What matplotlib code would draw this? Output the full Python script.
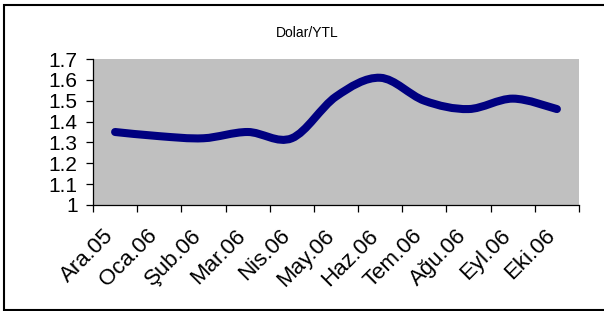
import matplotlib
matplotlib.use('Agg')
import matplotlib.pyplot as plt
from matplotlib.path import Path
from matplotlib.patches import PathPatch
from matplotlib.lines import Line2D
from matplotlib.transforms import ScaledTranslation
import numpy as np

# ---- data ----
months = ["Ara.05", "Oca.06", "Şub.06", "Mar.06", "Nis.06", "May.06",
          "Haz.06", "Tem.06", "Ağu.06", "Eyl.06", "Eki.06"]
rates = [1.35, 1.33, 1.32, 1.35, 1.32, 1.52, 1.61, 1.50, 1.46, 1.51, 1.46]
y_ticks = [1.0, 1.1, 1.2, 1.3, 1.4, 1.5, 1.6, 1.7]
y_labels = ["1", "1.1", "1.2", "1.3", "1.4", "1.5", "1.6", "1.7"]
title = "Dolar/YTL"

plt.rcParams['font.family'] = ['Liberation Sans', 'DejaVu Sans']

W, H = 604, 311
fig = plt.figure(figsize=(W / 100, H / 100), dpi=100)
ax = fig.add_axes([93 / W, (H - 205) / H, 486 / W, 146 / H])
ax.set_facecolor('#C0C0C0')

x = np.arange(len(months))
pts = list(zip(x, rates))

# smoothed line (Bezier through the data points, like Excel's smoothed line)
verts = [pts[0]]
codes = [Path.MOVETO]
for i in range(len(pts) - 1):
    p0 = pts[i - 1] if i > 0 else pts[i]
    p1 = pts[i]
    p2 = pts[i + 1]
    p3 = pts[i + 2] if i + 2 < len(pts) else pts[i + 1]
    c1 = (p1[0] + (p2[0] - p0[0]) / 6, p1[1] + (p2[1] - p0[1]) / 6)
    c2 = (p2[0] - (p3[0] - p1[0]) / 6, p2[1] - (p3[1] - p1[1]) / 6)
    verts += [c1, c2, p2]
    codes += [Path.CURVE4] * 3
ax.add_patch(PathPatch(Path(verts, codes), fill=False, edgecolor='#000080',
                       lw=5.8, capstyle='round', joinstyle='round'))

ax.set_xlim(-0.5, len(months) - 0.5)
ax.set_ylim(1.0, 1.7)

for s in ['top', 'right']:
    ax.spines[s].set_visible(False)
for s in ['left', 'bottom']:
    ax.spines[s].set_linewidth(0.9)
    ax.spines[s].set_color('black')

# x: boundary ticks (major), labels at category centres (minor)
ax.set_xticks(np.arange(-0.5, len(months), 1.0))
ax.set_xticklabels([])
ax.set_xticks(x, minor=True)
ax.set_xticklabels(months, minor=True, fontsize=16, rotation=45,
                   ha='right', va='center', rotation_mode='anchor')
ax.tick_params(axis='x', which='major', direction='out', length=5, width=0.9)
ax.tick_params(axis='x', which='minor', length=0, pad=20)
shift = ScaledTranslation(-5 / 100, 0, fig.dpi_scale_trans)
for lab in ax.get_xticklabels(minor=True):
    lab.set_transform(lab.get_transform() + shift)

ax.set_yticks(y_ticks)
ax.set_yticklabels(y_labels, fontsize=15)
ax.tick_params(axis='y', direction='out', length=5, width=0.9, pad=6)

fig.text(307 / W, 1 - 33 / H, title, ha='center', va='center', fontsize=10)

# chart border: open on the right (cut off by the image edge)
fx = [1.0, 4 / W, 4 / W, 1.0]
fy = [1 - 5 / H, 1 - 5 / H, 1 - 310 / H, 1 - 310 / H]
fig.add_artist(Line2D(fx, fy, transform=fig.transFigure, color='black',
                      lw=1.5, solid_joinstyle='miter'))

fig.savefig('out.png', dpi=100)
